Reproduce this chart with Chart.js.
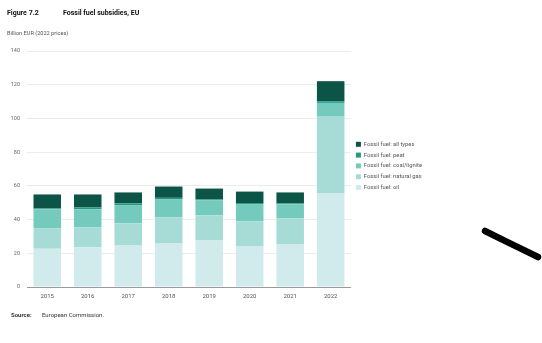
<!DOCTYPE html>
<html>
<head>
<meta charset="utf-8">
<script src="https://cdn.jsdelivr.net/npm/chart.js@4"></script>
<style>
  html, body { margin: 0; padding: 0; background: #fff; }
  #wrap { position: relative; width: 542px; height: 343px; font-family: Roboto, 'Liberation Sans', sans-serif; }
  #chart { position: absolute; left: 0; top: 0; }
  .txt { position: absolute; white-space: nowrap; line-height: 1; }
  .fig { left: 7px; top: 10px; font-size: 7px; font-weight: bold; color: #111; }
  .title { left: 63px; top: 10px; font-size: 7px; font-weight: bold; color: #111; }
  .unit { left: 7px; top: 30.5px; font-size: 5.6px; color: #555; }
  .src { left: 11px; top: 311.5px; font-size: 6px; font-weight: bold; color: #333; }
  .srctext { left: 42px; top: 311.5px; font-size: 6px; color: #333; }
  #scribble { position: absolute; left: 0; top: 0; }
</style>
</head>
<body>
<div id="wrap">
  <canvas id="chart" width="542" height="343"></canvas>
  <div class="txt fig">Figure 7.2</div>
  <div class="txt title">Fossil fuel subsidies, EU</div>
  <div class="txt unit">Billion EUR (2022 prices)</div>
  <div class="txt src">Source:</div>
  <div class="txt srctext">European Commission.</div>
  <svg id="scribble" width="542" height="343">
    <line x1="485" y1="231" x2="538" y2="257" stroke="#000" stroke-width="6.5" stroke-linecap="round"/>
  </svg>
</div>
<script>
const years = ['2015', '2016', '2017', '2018', '2019', '2020', '2021', '2022'];

// billion EUR, 2022 prices (stacked from bottom)
const oil = [22.7, 23.5, 24.9, 26.1, 27.6, 24.3, 25.5, 55.5];
const naturalGas = [12.2, 12.0, 12.9, 15.3, 14.9, 14.7, 15.3, 45.9];
const coalLignite = [11.2, 10.6, 10.8, 10.5, 8.9, 10.2, 8.2, 7.8];
const peat = [0.5, 1.1, 1.0, 1.0, 0.5, 0.6, 0.6, 1.0];
const allTypes = [8.3, 7.7, 6.5, 6.7, 6.5, 6.8, 6.5, 11.9];

const yTicks = [0, 20, 40, 60, 80, 100, 120, 140];

const ctx = document.getElementById('chart');

new Chart(ctx, {
  type: 'bar',
  data: {
    labels: years,
    datasets: [
      { label: 'Fossil fuel: oil', data: oil, backgroundColor: '#d1eaeb' },
      { label: 'Fossil fuel: natural gas', data: naturalGas, backgroundColor: '#a7dcd6' },
      { label: 'Fossil fuel: coal/lignite', data: coalLignite, backgroundColor: '#74cbbd' },
      { label: 'Fossil fuel: peat', data: peat, backgroundColor: '#239a85' },
      { label: 'Fossil fuel: all types', data: allTypes, backgroundColor: '#0c5446' },
    ],
  },
  options: {
    responsive: false,
    animation: false,
    devicePixelRatio: 1,
    layout: {
      padding: { top: 51, bottom: 40, left: 0, right: 110 },
    },
    datasets: {
      bar: { barPercentage: 0.68, categoryPercentage: 1 },
    },
    plugins: {
      tooltip: { enabled: false },
      legend: {
        position: 'right',
        align: 'start',
        reverse: true,
        title: {
          display: true,
          text: '',
          font: { size: 10 },
          padding: { top: 73.4, bottom: 0 },
        },
        labels: {
          boxWidth: 5,
          boxHeight: 5,
          padding: 5,
          color: '#555',
          font: { family: 'Roboto', size: 5.8 },
        },
      },
    },
    scales: {
      x: {
        stacked: true,
        grid: { display: false, drawTicks: false },
        border: { display: true, color: '#9a9a9a', width: 1 },
        ticks: {
          color: '#555',
          padding: 6,
          font: { family: 'Roboto', size: 6 },
        },
        afterFit: (scale) => { scale.height = 16; },
      },
      y: {
        stacked: true,
        min: 0,
        max: 140,
        afterBuildTicks: (scale) => { scale.ticks = yTicks.map((v) => ({ value: v })); },
        grid: { color: '#ececec', drawTicks: false },
        border: { display: false },
        ticks: {
          color: '#666',
          padding: 7,
          font: { family: 'Roboto', size: 5.5 },
        },
        afterFit: (scale) => { scale.width = 27; },
      },
    },
  },
});
</script>
</body>
</html>
